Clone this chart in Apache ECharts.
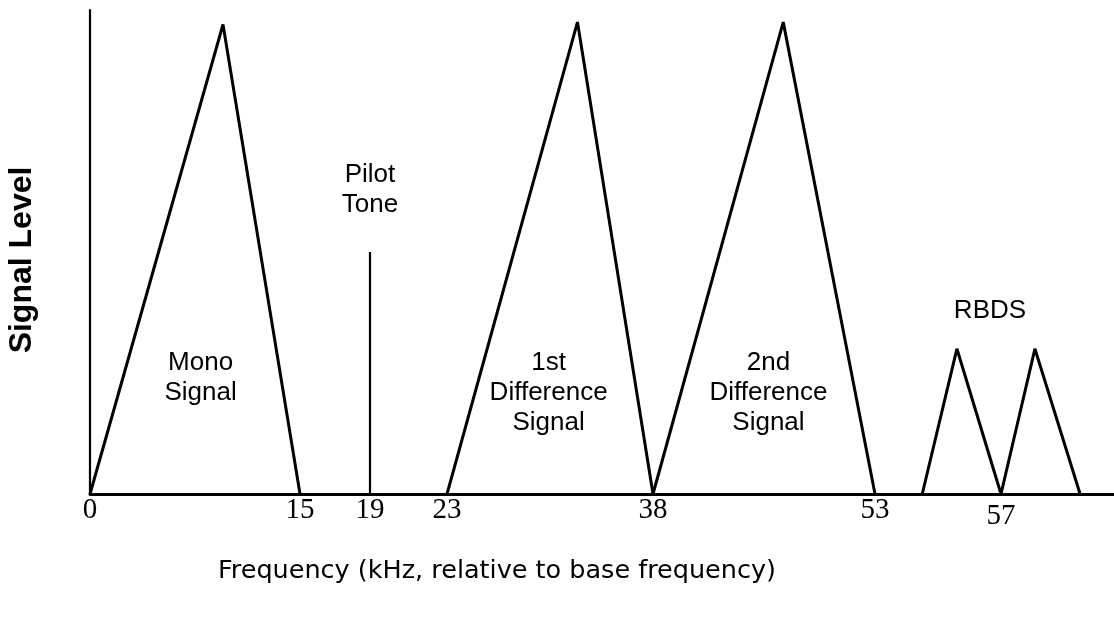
<!DOCTYPE html>
<html>
<head>
<meta charset="utf-8">
<script src="https://cdn.jsdelivr.net/npm/echarts@6/dist/echarts.min.js"></script>
<style>
  html, body { margin: 0; padding: 0; background: #fff; }
  #chart { width: 1114px; height: 620px; }
</style>
</head>
<body>
<div id="chart"></div>
<script>
// tick labels on the frequency axis (kHz); the drawing is not to scale,
// so each gap between two ticks gets its own axis segment
const ticks = [0, 15, 19, 23, 38, 53, 57];
const axisEnd = 61;

// signal shapes: [frequency kHz, level]
const mono  = [[0, 0], [9.5, 97], [15, 0]];
const pilot = [[19, 0], [19, 50]];
const diff1 = [[23, 0], [32.5, 97.5], [38, 0]];
const diff2 = [[38, 0], [46.8, 97.5], [53, 0]];
const rbdsA = [[54.5, 0], [55.6, 30], [57, 0]];
const rbdsB = [[57, 0], [58.2, 30], [59.8, 0]];

// text inside the picture: [frequency, level, text]
const notes = [
  [7.9, 24, 'Mono\nSignal'],
  [19, 62.8, 'Pilot\nTone'],
  [30.4, 20.9, '1st\nDifference\nSignal'],
  [45.8, 20.9, '2nd\nDifference\nSignal'],
  [56.65, 37.8, 'RBDS']
];

// pixel edges of the axis segments
const edges = [90, 300, 370, 447, 653, 875, 1001, 1114];
const baseY = 494;
const topY = 10;

const chart = echarts.init(document.getElementById('chart'));

const stops = ticks.concat([axisEnd]);
const grids = [], xAxes = [], yAxes = [], series = [];

function segOf(x) {
  let k = 0;
  for (let i = 0; i < ticks.length; i++) if (x >= ticks[i]) k = i;
  return k;
}

for (let i = 0; i < ticks.length; i++) {
  grids.push({
    left: edges[i], width: edges[i + 1] - edges[i],
    top: topY, height: baseY - topY,
    outerBoundsMode: 'none', containLabel: false
  });
  xAxes.push({
    gridIndex: i, type: 'value', min: stops[i], max: stops[i + 1],
    axisLine: { show: true, onZero: false, lineStyle: { color: '#000', width: 2.8 } },
    axisTick: { show: false },
    splitLine: { show: false },
    axisLabel: {
      customValues: [ticks[i]],
      margin: ticks[i] === 57 ? 8 : 2,
      color: '#000',
      fontFamily: 'Liberation Serif',
      fontSize: 29
    }
  });
  yAxes.push({
    gridIndex: i, type: 'value', min: 0, max: 100,
    show: i === 0,
    axisLine: { show: true, lineStyle: { color: '#000', width: 2.2 } },
    axisTick: { show: false },
    axisLabel: { show: false },
    splitLine: { show: false }
  });
}

[mono, pilot, diff1, diff2, rbdsA, rbdsB].forEach(function (d) {
  const k = segOf(d[0][0]);
  series.push({
    type: 'line', xAxisIndex: k, yAxisIndex: k,
    data: d, symbol: 'none', clip: false,
    lineStyle: { color: '#000', width: d === pilot ? 2.2 : 3 }
  });
});

notes.forEach(function (n) {
  const k = segOf(n[0]);
  series.push({
    type: 'scatter', xAxisIndex: k, yAxisIndex: k,
    data: [[n[0], n[1]]], symbolSize: 0, clip: false, silent: true,
    itemStyle: { opacity: 1 },
    label: {
      show: true, position: 'inside', formatter: n[2],
      color: '#000', opacity: 1, fontFamily: 'Liberation Sans', fontSize: 26,
      lineHeight: 30, align: 'center'
    }
  });
});

chart.setOption({
  animation: false,
  grid: grids,
  xAxis: xAxes,
  yAxis: yAxes,
  series: series,
  graphic: [{
    type: 'text', x: 22, y: 260, rotation: Math.PI / 2,
    style: {
      text: 'Signal Level', fill: '#000',
      font: 'bold 32px "Liberation Sans"',
      align: 'center', verticalAlign: 'middle'
    }
  }, {
    type: 'text', x: 497, y: 571,
    style: {
      text: 'Frequency (kHz, relative to base frequency)', fill: '#000',
      font: '25.5px "DejaVu Sans"',
      align: 'center', verticalAlign: 'middle'
    }
  }]
});
</script>
</body>
</html>
